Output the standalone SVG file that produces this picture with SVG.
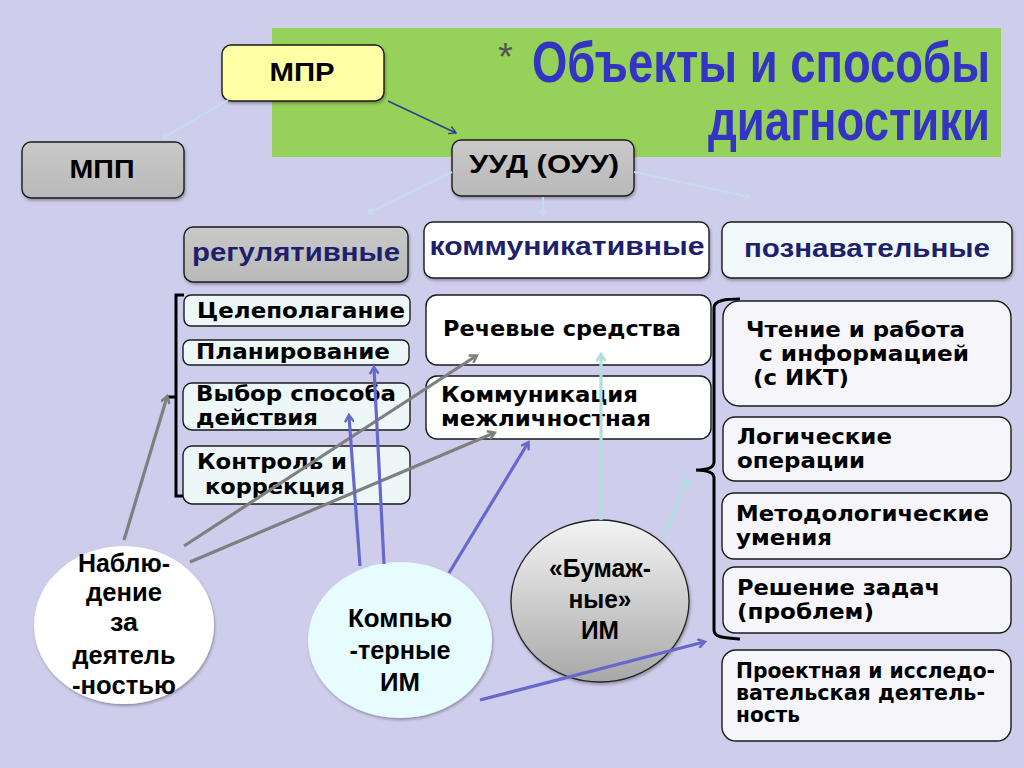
<svg xmlns="http://www.w3.org/2000/svg" width="1024" height="768" viewBox="0 0 1024 768">
<defs>
<style>
.bx{stroke:#1a1a1a;stroke-width:1.4}
.gray{fill:url(#gGray)}
.azure{fill:#EEF7F8}
.white{fill:#FFFFFF}
.pale{fill:#F6F6FA}
.nar{font-family:"Liberation Sans Narrow","Liberation Sans",Arial,sans-serif;font-weight:bold}
.tah{font-family:"DejaVu Sans","Liberation Sans",Verdana,sans-serif;font-weight:bold;font-size:21px;fill:#000}
.hd{fill:#1F1F6B;font-size:26px}
.circ{font-family:"Liberation Sans Narrow","Liberation Sans",Arial,sans-serif;font-weight:bold;font-size:25px;fill:#000;text-anchor:middle}
.ag{stroke:#7F7F7F;stroke-width:3.2;fill:none;marker-end:url(#mG)}
.ab{stroke:#6868CC;stroke-width:3.2;fill:none;marker-end:url(#mB)}
.ac{stroke:#B2DEE0;stroke-width:3.2;fill:none;marker-end:url(#mC)}
.af{stroke:#C4DDEC;stroke-width:2;fill:none;marker-end:url(#mF)}
.br{stroke:#000;stroke-width:3;fill:none}
</style>
<linearGradient id="gGray" x1="0" y1="0" x2="0" y2="1">
<stop offset="0" stop-color="#C9C9C9"/><stop offset="1" stop-color="#B9B9B9"/>
</linearGradient>
<linearGradient id="gBum" x1="0" y1="0" x2="0" y2="1">
<stop offset="0" stop-color="#F4F4F4"/><stop offset="1" stop-color="#A8A8A8"/>
</linearGradient>
<filter id="sh" x="-10%" y="-10%" width="120%" height="130%">
<feDropShadow dx="1" dy="2" stdDeviation="1.5" flood-color="#000" flood-opacity="0.3"/>
</filter>
<marker id="mG" markerWidth="10" markerHeight="10" refX="7" refY="5" orient="auto" markerUnits="userSpaceOnUse"><path d="M1,0.5 L8,5 L1,9.5" fill="none" stroke="#7F7F7F" stroke-width="2.5"/></marker>
<marker id="mB" markerWidth="10" markerHeight="10" refX="7" refY="5" orient="auto" markerUnits="userSpaceOnUse"><path d="M1,0.5 L8,5 L1,9.5" fill="none" stroke="#6868CC" stroke-width="2.5"/></marker>
<marker id="mC" markerWidth="10" markerHeight="10" refX="7" refY="5" orient="auto" markerUnits="userSpaceOnUse"><path d="M1,0.5 L8,5 L1,9.5" fill="none" stroke="#B2DEE0" stroke-width="2.5"/></marker>
<marker id="mF" markerWidth="8" markerHeight="8" refX="6" refY="4" orient="auto" markerUnits="userSpaceOnUse"><path d="M1,0.5 L6,4 L1,7.5" fill="none" stroke="#C4DDEC" stroke-width="1.6"/></marker>
<marker id="mD" markerWidth="10" markerHeight="10" refX="8" refY="5" orient="auto" markerUnits="userSpaceOnUse"><path d="M1,1 L8,5 L1,9" fill="none" stroke="#2E3C8C" stroke-width="1.4"/></marker>
</defs>

<rect x="0" y="0" width="1024" height="768" fill="#CFCDEC"/>

<g id="title">
<rect x="272" y="28" width="729" height="129" fill="#96D15A"/>
<text x="498" y="70" font-family="Liberation Sans, Arial, sans-serif" font-size="38" fill="#555">*</text>
<text class="nar" transform="translate(532,82) scale(0.8,1)" x="0" y="0" font-size="57" fill="#3434C4" textLength="572.5" lengthAdjust="spacingAndGlyphs">Объекты и способы</text>
<text class="nar" transform="translate(708,140) scale(0.8,1)" x="0" y="0" font-size="57" fill="#3434C4" textLength="352.5" lengthAdjust="spacingAndGlyphs">диагностики</text>
</g>

<g id="brackets">
<path class="br" d="M184,295 H176 V496 H184 M176,397 H166"/>
<path class="br" d="M740,299 C726,299 714,300 714,308 V462 C714,468 706,470 696,470 C706,470 714,472 714,478 V630 C714,638 726,638 740,639"/>
</g>

<g id="mpr"><rect class="bx" x="222" y="45" width="162" height="56" rx="9" fill="#FFFFA6" filter="url(#sh)"/>
<text class="nar" x="302" y="81" text-anchor="middle" font-size="26" textLength="65" lengthAdjust="spacingAndGlyphs">МПР</text></g>

<g id="mpp"><rect class="bx gray" x="22" y="142" width="162" height="56" rx="9" filter="url(#sh)"/>
<text class="nar" x="102" y="178" text-anchor="middle" font-size="26" textLength="65" lengthAdjust="spacingAndGlyphs">МПП</text></g>

<g id="uud"><rect class="bx gray" x="452" y="140" width="182" height="56" rx="9" filter="url(#sh)"/>
<text class="nar" x="544" y="173" text-anchor="middle" font-size="26" textLength="150" lengthAdjust="spacingAndGlyphs">УУД (ОУУ)</text></g>

<g id="reg"><rect class="bx gray" x="184" y="227" width="224" height="55" rx="9" filter="url(#sh)"/>
<text class="nar hd" x="296" y="261" text-anchor="middle" textLength="208" lengthAdjust="spacingAndGlyphs">регулятивные</text></g>

<g id="komm"><rect class="bx white" x="424" y="222" width="285" height="56" rx="9" filter="url(#sh)"/>
<text class="nar hd" x="567" y="255" text-anchor="middle" textLength="275" lengthAdjust="spacingAndGlyphs">коммуникативные</text></g>

<g id="pozn"><rect class="bx" x="722" y="222" width="290" height="56" rx="9" fill="#F0F8FA" filter="url(#sh)"/>
<text class="nar hd" x="867" y="257" text-anchor="middle" textLength="246" lengthAdjust="spacingAndGlyphs">познавательные</text></g>

<g id="celep"><rect class="bx azure" x="184" y="295" width="226" height="31" rx="7"/>
<text class="tah" x="197" y="318" textLength="208" lengthAdjust="spacingAndGlyphs">Целеполагание</text></g>

<g id="plan"><rect class="bx azure" x="183" y="340" width="226" height="25" rx="7"/>
<text class="tah" x="196" y="359" textLength="194" lengthAdjust="spacingAndGlyphs">Планирование</text></g>

<g id="vybor"><rect class="bx azure" x="183" y="383" width="227" height="47" rx="9"/>
<text class="tah" x="196" y="401" textLength="200" lengthAdjust="spacingAndGlyphs">Выбор способа</text>
<text class="tah" x="196" y="425" textLength="122" lengthAdjust="spacingAndGlyphs">действия</text></g>

<g id="kontrol"><rect class="bx azure" x="183" y="446" width="227" height="58" rx="9"/>
<text class="tah" x="197" y="469" textLength="150" lengthAdjust="spacingAndGlyphs">Контроль и</text>
<text class="tah" x="205" y="494" textLength="140" lengthAdjust="spacingAndGlyphs">коррекция</text></g>

<g id="rech"><rect class="bx white" x="426" y="295" width="285" height="70" rx="11"/>
<text class="tah" x="443" y="336" textLength="238" lengthAdjust="spacingAndGlyphs">Речевые средства</text></g>

<g id="mezhl"><rect class="bx white" x="426" y="376" width="285" height="63" rx="11"/>
<text class="tah" x="441" y="402" textLength="197" lengthAdjust="spacingAndGlyphs">Коммуникация</text>
<text class="tah" x="441" y="426" textLength="210" lengthAdjust="spacingAndGlyphs">межличностная</text></g>

<g id="chtenie"><rect class="bx pale" x="723" y="301" width="288" height="105" rx="16"/>
<text class="tah" x="746" y="337" textLength="219" lengthAdjust="spacingAndGlyphs">Чтение и работа</text>
<text class="tah" x="759" y="361" textLength="210" lengthAdjust="spacingAndGlyphs">с информацией</text>
<text class="tah" x="753" y="385" textLength="96" lengthAdjust="spacingAndGlyphs">(с ИКТ)</text></g>

<g id="logich"><rect class="bx pale" x="723" y="417" width="288" height="64" rx="12"/>
<text class="tah" x="737" y="444" textLength="155" lengthAdjust="spacingAndGlyphs">Логические</text>
<text class="tah" x="737" y="468" textLength="128" lengthAdjust="spacingAndGlyphs">операции</text></g>

<g id="metod"><rect class="bx pale" x="722" y="493" width="289" height="66" rx="12"/>
<text class="tah" x="736" y="521" textLength="253" lengthAdjust="spacingAndGlyphs">Методологические</text>
<text class="tah" x="736" y="545" textLength="96" lengthAdjust="spacingAndGlyphs">умения</text></g>

<g id="reshenie"><rect class="bx pale" x="723" y="567" width="288" height="66" rx="12"/>
<text class="tah" x="737" y="595" textLength="203" lengthAdjust="spacingAndGlyphs">Решение задач</text>
<text class="tah" x="737" y="619" textLength="137" lengthAdjust="spacingAndGlyphs">(проблем)</text></g>

<g id="proekt"><rect class="bx pale" x="722" y="650" width="289" height="91" rx="14"/>
<text class="tah" x="736" y="678" font-size="17" textLength="259" lengthAdjust="spacingAndGlyphs">Проектная и исследо-</text>
<text class="tah" x="736" y="700" font-size="17" textLength="249" lengthAdjust="spacingAndGlyphs">вательская деятель-</text>
<text class="tah" x="736" y="722" font-size="17" textLength="64" lengthAdjust="spacingAndGlyphs">ность</text></g>

<g id="nabl"><ellipse cx="124" cy="625" rx="90" ry="79" fill="#FFFFFF" filter="url(#sh)"/>
<text class="circ" x="124" y="572" textLength="92" lengthAdjust="spacingAndGlyphs">Наблю-</text>
<text class="circ" x="124" y="601" textLength="76" lengthAdjust="spacingAndGlyphs">дение</text>
<text class="circ" x="124" y="631" textLength="28" lengthAdjust="spacingAndGlyphs">за</text>
<text class="circ" x="124" y="664" textLength="103" lengthAdjust="spacingAndGlyphs">деятель</text>
<text class="circ" x="124" y="694" textLength="104" lengthAdjust="spacingAndGlyphs">-ностью</text></g>

<g id="komp"><ellipse cx="400" cy="640" rx="92" ry="78" fill="#E6FCFD" filter="url(#sh)"/>
<text class="circ" x="400" y="627" textLength="104" lengthAdjust="spacingAndGlyphs">Компью</text>
<text class="circ" x="400" y="659" textLength="101" lengthAdjust="spacingAndGlyphs">-терные</text>
<text class="circ" x="400" y="691" textLength="40" lengthAdjust="spacingAndGlyphs">ИМ</text></g>

<g id="bum"><ellipse cx="600" cy="601" rx="89" ry="81" fill="url(#gBum)" stroke="#222" stroke-width="1.3" filter="url(#sh)"/>
<text class="circ" x="600" y="577" textLength="102" lengthAdjust="spacingAndGlyphs">«Бумаж-</text>
<text class="circ" x="600" y="608" textLength="63" lengthAdjust="spacingAndGlyphs">ные»</text>
<text class="circ" x="600" y="639" textLength="38" lengthAdjust="spacingAndGlyphs">ИМ</text></g>

<g id="connectors">
<line class="af" x1="228" y1="100" x2="163" y2="138"/>
<line x1="388" y1="101" x2="456" y2="133" stroke="#2E3C8C" stroke-width="1.4" marker-end="url(#mD)"/>
<line class="af" x1="452" y1="172" x2="368" y2="213"/>
<line class="af" x1="543" y1="197" x2="543" y2="215"/>
<line class="af" x1="634" y1="172" x2="750" y2="197"/>
<line class="ag" x1="124" y1="540" x2="167" y2="397"/>
<line class="ag" x1="184" y1="546" x2="476" y2="356"/>
<line class="ag" x1="190" y1="562" x2="494" y2="433"/>
<line class="ab" x1="360" y1="566" x2="349" y2="416"/>
<line class="ab" x1="384" y1="564" x2="374" y2="368"/>
<line class="ab" x1="449" y1="573" x2="528" y2="443"/>
<line class="ab" x1="480" y1="700" x2="704" y2="642"/>
<line class="ac" x1="601" y1="520" x2="601" y2="355"/>
<line class="ac" x1="663" y1="538" x2="687" y2="479"/>
</g>
</svg>
